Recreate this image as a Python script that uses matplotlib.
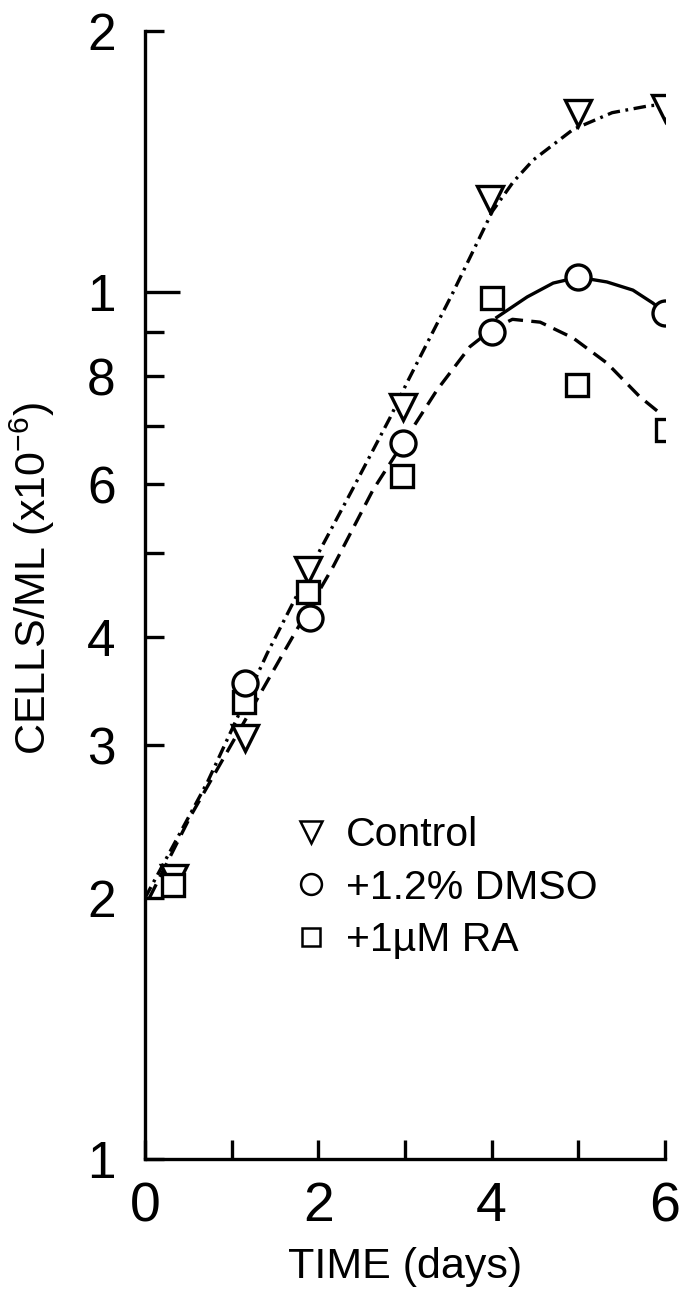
import matplotlib
matplotlib.use("Agg")
import matplotlib.pyplot as plt
from matplotlib.lines import Line2D

plt.rcParams['font.family'] = ['Liberation Sans', 'DejaVu Sans']
plt.rcParams['mathtext.default'] = 'regular'
plt.rcParams['lines.scale_dashes'] = False

ctrl_days = [0.33, 1.15, 1.88, 2.98, 3.98, 5.0, 6.0]
ctrl_cells = [2.11, 3.06, 4.78, 7.37, 12.8, 16.1, 16.3]

dmso_days = [1.15, 1.9, 2.98, 4.0, 5.0, 6.0]
dmso_cells = [3.54, 4.21, 6.70, 9.0, 10.4, 9.46]

ra_days = [0.32, 1.14, 1.88, 2.96, 4.0, 4.98, 6.02]
ra_cells = [2.07, 3.37, 4.51, 6.13, 9.84, 7.81, 6.93]

# hand-drawn fit curves
ctrl_fit_days = [0.0, 0.72, 1.41, 2.02, 2.39, 2.83, 3.02, 3.55, 4.01, 4.25, 4.48, 4.94, 5.39, 5.82, 6.0]
ctrl_fit_cells = [2.0, 2.72, 3.83, 5.04, 5.91, 7.17, 7.85, 9.97, 12.4, 13.4, 14.2, 15.4, 16.1, 16.4, 16.45]

ra_fit_days = [0.05, 0.52, 1.62, 2.17, 2.63, 3.37, 3.75, 4.0, 4.24, 4.56, 4.94, 5.33, 5.71, 5.97]
ra_fit_cells = [2.0, 2.48, 3.87, 4.82, 5.91, 7.71, 8.65, 9.05, 9.3, 9.23, 8.85, 8.28, 7.57, 7.21]

dmso_fit_days = [4.06, 4.41, 4.71, 5.0, 5.33, 5.63, 5.86, 6.0]
dmso_fit_cells = [9.35, 9.87, 10.24, 10.4, 10.27, 10.05, 9.71, 9.46]

y_minor = [1, 2, 3, 4, 5, 6, 7, 8, 9, 20]
y_minor_labels = ['1', '2', '3', '4', '', '6', '', '8', '', '2']
x_ticks = [0, 1, 2, 3, 4, 5, 6]
x_labels = ['0', '', '2', '', '4', '', '6']

fig = plt.figure(figsize=(6.79, 12.93), dpi=100)
ax = fig.add_axes([145 / 679, 1 - 1159 / 1293, 520 / 679, 1128 / 1293])

lw = 2.4
ax.plot(ctrl_fit_days, ctrl_fit_cells, color='black', lw=lw, dashes=(9, 4, 2, 4), zorder=2)
ax.plot(ra_fit_days, ra_fit_cells, color='black', lw=lw, dashes=(11, 6), zorder=2)
ax.plot(dmso_fit_days, dmso_fit_cells, color='black', lw=lw, zorder=2)

mk = dict(ls='none', mfc='white', mec='black', mew=2.4, zorder=3)
ax.plot(ctrl_days, ctrl_cells, marker='v', ms=19, **mk)
ax.plot(ra_days, ra_cells, marker='s', ms=16, **mk)
ax.plot(dmso_days, dmso_cells, marker='o', ms=18, **mk)

ax.set_yscale('log')
ax.set_xlim(0, 6)
ax.set_ylim(1, 20)

ax.set_yticks([10], ['1'])
ax.set_yticks(y_minor, y_minor_labels, minor=True)
ax.set_xticks(x_ticks, x_labels)

ax.tick_params(axis='y', which='both', direction='in', labelsize=37, pad=21, width=lw)
ax.tick_params(axis='y', which='major', length=25)
ax.tick_params(axis='y', which='minor', length=14)
ax.tick_params(axis='x', direction='in', labelsize=40, pad=16, length=14, width=lw)

for s in ['top', 'right']:
    ax.spines[s].set_visible(False)
for s in ['left', 'bottom']:
    ax.spines[s].set_linewidth(lw)

ax.set_xlabel('TIME (days)', fontsize=31, labelpad=10)
ax.set_ylabel('CELLS/ML (x10$^{-6}$)', fontsize=31)
ax.yaxis.set_label_coords(-0.17, 0.515)

handles = [
    Line2D([], [], marker='v', ls='none', mfc='white', mec='black', ms=16, mew=1.8),
    Line2D([], [], marker='o', ls='none', mfc='white', mec='black', ms=15, mew=1.8),
    Line2D([], [], marker='s', ls='none', mfc='white', mec='black', ms=13, mew=1.8),
]
labels = ['Control', '+1.2% DMSO', '+1\u00b5M RA']
fig.legend(handles, labels, loc='upper left', bbox_to_anchor=(0.434, 0.369),
           frameon=False, fontsize=29.5, handlelength=0.8, handletextpad=0.45,
           labelspacing=0.36, borderpad=0, borderaxespad=0)

fig.savefig('out.png', dpi=100)
